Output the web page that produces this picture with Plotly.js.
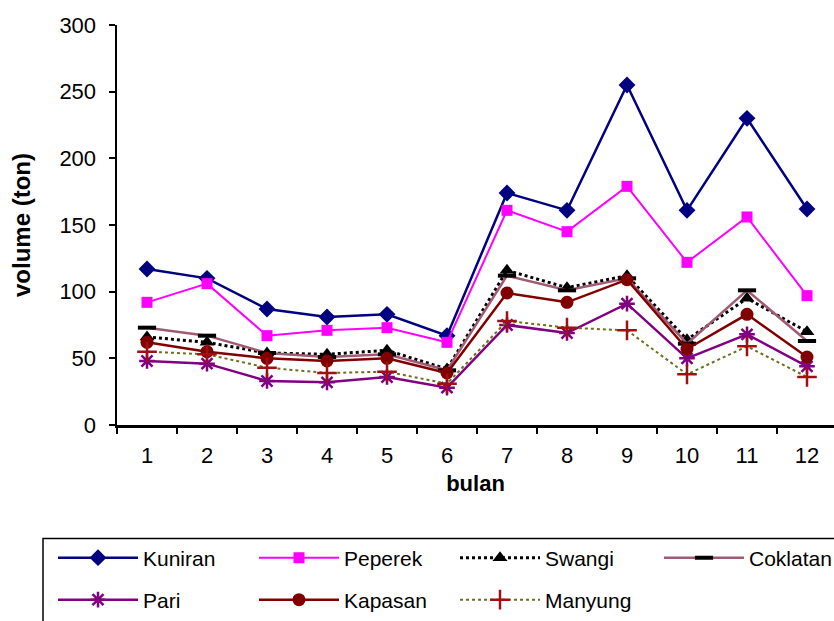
<!DOCTYPE html>
<html>
<head>
<meta charset="utf-8">
<script src="https://cdn.plot.ly/plotly-3.0.1.min.js"></script>
<style>html,body{margin:0;padding:0;background:#fff;}#chart{width:834px;height:621px;}</style>
</head>
<body>
<div id="chart"></div>
<script>
// months (bulan)
const months = ['1','2','3','4','5','6','7','8','9','10','11','12'];
// volume (ton) per species
const kuniran  = [117,110,87,81,83,67,174,161,255,161,230,162];
const peperek  = [92,106,67,71,73,62,161,145,179,122,156,97];
const swangi   = [66,62,54,53,56,42,116,103,112,64,95,70];
const coklatan = [73,67,54,51,53,41,112,101,110,61,101,63];
const pari     = [48,46,33,32,36,28,75,69,91,50,68,44];
const kapasan  = [62,55,50,48,50,39,99,92,109,57,83,51];
const manyung  = [55,53,43,39,40,31,78,73,71,38,59,36];
const yTicks = [0,50,100,150,200,250,300];

const FONT = 'Liberation Sans, Arial, sans-serif';

function tr(name, y, lineColor, width, dash, symbol, size, mColor, mLineColor, mLineWidth, legend) {
  return {
    type: 'scatter', mode: 'lines+markers', name: name, x: months, y: y,
    line: {color: lineColor, width: width, dash: dash},
    marker: {symbol: symbol, size: size, color: mColor,
             line: {color: mLineColor, width: mLineWidth}},
    legend: legend
  };
}

const data = [
  tr('Kuniran', kuniran, '#000080', 2.5, 'solid', 'diamond', 13, '#000080', '#000080', 0, 'legend'),
  tr('Peperek', peperek, '#ff00ff', 2, 'solid', 'square', 11, '#ff00ff', '#ff00ff', 0, 'legend'),
  tr('Swangi', swangi, '#000000', 3, 'dot', 'triangle-up', 13, '#000000', '#000000', 0, 'legend'),
  tr('Coklatan', coklatan, '#a05a74', 2.5, 'solid', 'line-ew', 13, '#000000', '#000000', 4, 'legend3'),
  tr('Pari', pari, '#800080', 2.5, 'solid', 'asterisk', 13, '#800080', '#800080', 2.5, 'legend2'),
  tr('Kapasan', kapasan, '#800000', 2.5, 'solid', 'circle', 13, '#800000', '#800000', 0, 'legend2'),
  tr('Manyung', manyung, '#6e6e20', 2, 'dot', 'cross-thin', 14, '#a01010', '#a01010', 2.5, 'legend2')
];

const legendCommon = {
  orientation: 'h', xref: 'container', yref: 'container',
  xanchor: 'left', yanchor: 'middle', entrywidth: 106, entrywidthmode: 'pixels',
  itemwidth: 80, bgcolor: 'rgba(0,0,0,0)', borderwidth: 0,
  font: {family: FONT, size: 21, color: '#000'}
};

const layout = {
  width: 834, height: 621,
  margin: {l: 117, r: 0, t: 25, b: 196, pad: 0},
  paper_bgcolor: '#fff', plot_bgcolor: '#fff',
  font: {family: FONT, size: 22, color: '#000'},
  xaxis: {
    type: 'category', categoryorder: 'array', categoryarray: months,
    range: [-0.5, 11.45], tickson: 'boundaries',
    ticks: 'outside', ticklen: 6, tickwidth: 2, tickcolor: '#000',
    showline: true, linewidth: 2.5, linecolor: '#000', showgrid: false, zeroline: false,
    ticklabelstandoff: 9, automargin: false, fixedrange: true,
    tickfont: {family: FONT, size: 22, color: '#000'},
    title: {text: 'bulan', standoff: 9, font: {family: FONT, size: 22, color: '#000', weight: 'bold'}}
  },
  yaxis: {
    range: [0, 300], tickvals: yTicks, ticktext: yTicks.map(String),
    ticks: 'outside', ticklen: 6, tickwidth: 2, tickcolor: '#000',
    showline: true, linewidth: 2.5, linecolor: '#000', showgrid: false, zeroline: false,
    ticklabelstandoff: 8, automargin: false, fixedrange: true,
    tickfont: {family: FONT, size: 22, color: '#000'},
    title: {text: 'volume (ton)', standoff: 22, font: {family: FONT, size: 24, color: '#000', weight: 'bold'}}
  },
  showlegend: true,
  legend: Object.assign({}, legendCommon, {x: 53/834, y: 1 - 558/621}),
  legend3: Object.assign({}, legendCommon, {x: 659/834, y: 1 - 558/621}),
  legend2: Object.assign({}, legendCommon, {x: 53/834, y: 1 - 600/621}),
  shapes: [{
    type: 'rect', xref: 'paper', yref: 'paper',
    x0: (43 - 117) / 717, x1: 1.1, y0: (425 - 538.5) / 400, y1: -0.6,
    line: {color: '#000', width: 1.5}, fillcolor: 'rgba(0,0,0,0)', layer: 'above'
  }]
};

Plotly.newPlot('chart', data, layout, {displayModeBar: false, staticPlot: true});
</script>
</body>
</html>
